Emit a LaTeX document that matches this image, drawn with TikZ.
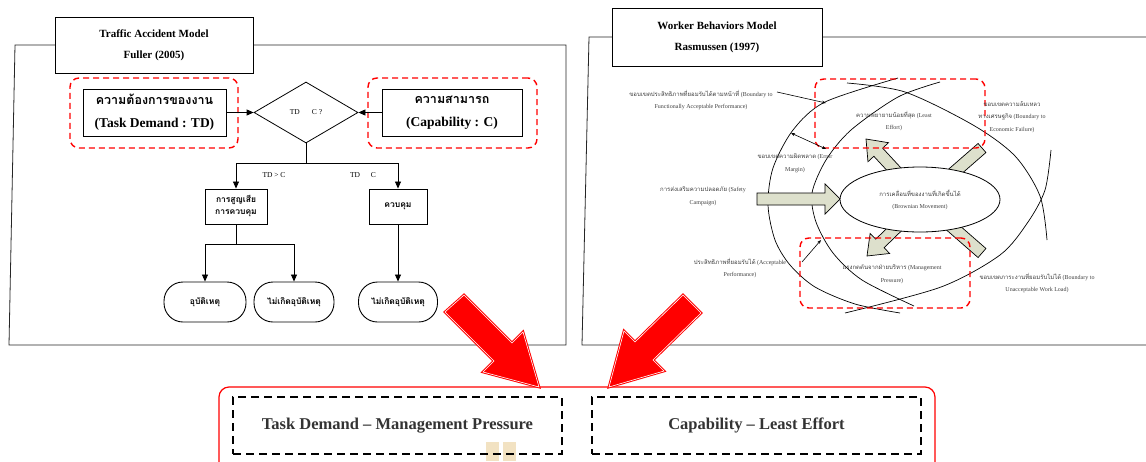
\documentclass[tikz,border=0pt]{standalone}
\usepackage{fontspec}
\setmainfont{Liberation Serif}
\newfontfamily\thaifont[Script=Thai]{Loma}
\usetikzlibrary{arrows.meta,shapes.geometric,calc}

\definecolor{drift}{RGB}{221,224,204}
\definecolor{stain}{RGB}{242,226,194}

% block arrow: from #1 to #2, shaft half width #3, head half width #4, head length #5
\newcommand\blockarr[5]{%
  \coordinate (ba-h) at ($(#2)!#5!(#1)$);
  \filldraw[blockfill] ($(#1)!#3!90:(#2)$) -- ($(ba-h)!#3!-90:(#1)$) -- ($(ba-h)!#4!-90:(#1)$)
    -- (#2) -- ($(ba-h)!#4!90:(#1)$) -- ($(ba-h)!#3!90:(#1)$) -- ($(#1)!#3!-90:(#2)$) -- cycle;}
% plain bar from #1 to #2, half width #3
\newcommand\blockbar[3]{%
  \filldraw[blockfill] ($(#1)!#3!90:(#2)$) -- ($(#2)!#3!-90:(#1)$) -- ($(#2)!#3!90:(#1)$)
    -- ($(#1)!#3!-90:(#2)$) -- cycle;}

\begin{document}
\begin{tikzpicture}[x=1pt,y=-1pt,
  frame/.style={draw=black!85, line width=0.8pt},
  titlebox/.style={draw, fill=white, line width=0.9pt, align=center, inner sep=0pt,
    font=\bfseries\fontsize{11}{21}\selectfont},
  redzone/.style={draw=red, line width=1.4pt, dash pattern=on 6pt off 4pt, rounded corners=9pt},
  box/.style={draw, fill=white, line width=0.9pt, align=center, inner sep=0pt},
  stadium/.style={box, rounded corners=19pt, minimum height=40pt,
    font=\thaifont\bfseries\fontsize{8.5}{10}\selectfont},
  flow/.style={-{Triangle[length=7pt,width=6pt]}, line width=0.8pt},
  link/.style={line width=0.8pt},
  small/.style={font=\fontsize{7.5}{9}\selectfont, inner sep=0pt},
  tiny/.style={font=\fontsize{6}{12.5}\selectfont, text=black!75, align=center, inner sep=0pt},
  curve/.style={line width=0.7pt},
  thin/.style={line width=0.6pt, -{Stealth[length=4pt,width=3pt]}},
  blockfill/.style={draw, line width=0.7pt, fill=drift},
  bigred/.style={fill=red, draw=red, line width=2.6pt, line join=miter},
  bigredline/.style={draw=white, line width=0.6pt, line join=miter},
  resultbox/.style={draw, line width=1.2pt, dash pattern=on 8pt off 5pt, inner sep=0pt,
    font=\bfseries\fontsize{16.5}{19}\selectfont, text=black!80}
]
\useasboundingbox (0,0) rectangle (1146,461);
\fill[white] (0,0) rectangle (1146,461);

% ---------------- Fuller: task-capability interface ----------------
\draw[frame] (15,45) -- (566,45) -- (566,345) -- (9,345) -- cycle;
\node[titlebox, minimum width=198pt, minimum height=56pt] (ftitle) at (154,45)
  {Traffic Accident Model\\Fuller (2005)};

\node[redzone, minimum width=168pt, minimum height=70pt] (tdzone) at (154,113) {};
\node[redzone, minimum width=169pt, minimum height=70pt] (capzone) at (452.5,113) {};

\node[box, minimum width=143pt, minimum height=47pt] (tdbox) at (154.5,112.5)
  {{\thaifont\bfseries\fontsize{12.5}{14}\selectfont ความต้องการของงาน}\\[11pt]
   {\bfseries\fontsize{13.5}{14}\selectfont (Task Demand : TD)}};
\node[box, minimum width=140pt, minimum height=47pt] (capbox) at (452,112.5)
  {{\thaifont\bfseries\fontsize{12.5}{14}\selectfont ความสามารถ}\\[11pt]
   {\bfseries\fontsize{13.5}{14}\selectfont (Capability : C)}};

\node[diamond, draw, line width=0.8pt, fill=white, minimum width=104pt, minimum height=61pt,
  inner sep=0pt, small] (cmp) at (306,112.5) {TD\hspace{12pt}C ?};

\draw[flow] (tdbox.east) -- (cmp.west);
\draw[flow] (capbox.west) -- (cmp.east);

\node[box, minimum width=62pt, minimum height=35pt,
  font=\thaifont\bfseries\fontsize{8.5}{12}\selectfont] (loss) at (236,206.5)
  {การสูญเสีย\\การควบคุม};
\node[box, minimum width=58pt, minimum height=35pt,
  font=\thaifont\bfseries\fontsize{8.5}{12}\selectfont] (ctrl) at (398,206.5) {ควบคุม};

\coordinate (split) at (306,163);
\draw[link] (cmp.south) -- (split);
\draw[flow] (split) -| (loss.north);
\draw[flow] (split) -| (ctrl.north);
\node[small] (gt) at (274,175) {TD > C};
\node[small] (le) at (363,175) {TD\hspace{11pt}C};

\node[stadium, minimum width=82pt] (acc) at (205,302) {อุบัติเหตุ};
\node[stadium, minimum width=80pt] (noacc) at (294,302) {ไม่เกิดอุบัติเหตุ};
\node[stadium, minimum width=79pt] (noaccb) at (398,302) {ไม่เกิดอุบัติเหตุ};

\coordinate (split2) at (236,244);
\draw[link] (loss.south) -- (split2);
\draw[flow] (split2) -| (acc.north);
\draw[flow] (split2) -| (noacc.north);
\draw[flow] (ctrl.south) -- (noaccb.north);

% ---------------- Rasmussen: worker behaviour ----------------
\draw[frame] (1150,37) -- (589,37) -- (582,345) -- (1150,345);
\node[titlebox, minimum width=210pt, minimum height=58pt] (rtitle) at (717,37)
  {Worker Behaviors Model\\Rasmussen (1997)};

% boundary curves
\draw[curve] plot[smooth] coordinates {(898,78) (825,102) (793,130) (773,168) (768,205)
  (775,240) (790,265) (815,287) (855,304) (900,313)};
\draw[curve] plot[smooth] coordinates {(940,82) (898,97) (851,130) (826,160) (812,193)
  (816,222) (833,253) (862,280) (914,306)};
\draw[curve] plot[smooth] coordinates {(847,83) (905,92) (973,125) (1015,156) (1040,196)
  (1047,240)};
\draw[curve] plot[smooth] coordinates {(845,313) (941,287) (1000,255) (1028,222)
  (1045,190) (1051,150)};

% drift arrows around the work space
\coordinate (sa) at (757,199); \coordinate (sb) at (840,199);
\blockarr{sa}{sb}{6pt}{15pt}{15pt}
\coordinate (ula) at (904,180); \coordinate (ulb) at (866,139);
\blockarr{ula}{ulb}{6pt}{14pt}{18pt}
\coordinate (dla) at (904,220); \coordinate (dlb) at (867,256);
\blockarr{dla}{dlb}{6pt}{14pt}{18pt}
\coordinate (ura) at (943,182); \coordinate (urb) at (982,148);
\blockbar{ura}{urb}{6pt}
\coordinate (dra) at (943,219); \coordinate (drb) at (982,253);
\blockbar{dra}{drb}{6pt}

\node[ellipse, draw, line width=0.8pt, fill=white, minimum width=160pt, minimum height=65pt,
  inner sep=0pt] (space) at (920,199.5) {};
\node[tiny] (spacetxt) at (920,200)
  {{\thaifont การเคลื่อนที่ของงานที่เกิดขึ้นได้}\\(Brownian Movement)};

\node[redzone, minimum width=170pt, minimum height=69pt] (effzone) at (900,113.5) {};
\node[redzone, minimum width=170pt, minimum height=70pt] (prszone) at (885,273) {};

% labels
\node[tiny] (bfap) at (701,100)
  {{\thaifont ขอบเขตประสิทธิภาพที่ยอมรับได้ตามหน้าที่} (Boundary to\\
   Functionally Acceptable Performance)};
\node[tiny] (least) at (894,121) {{\thaifont ความพยายามน้อยที่สุด} (Least\\Effort)};
\node[tiny] (econ) at (1012,117)
  {{\thaifont ขอบเขตความล้มเหลว}\\{\thaifont ทางเศรษฐกิจ} (Boundary to\\Economic Failure)};
\node[tiny] (margin) at (795,163) {{\thaifont ขอบเขตความผิดพลาด} (Error\\Margin)};
\node[tiny] (safety) at (703,196) {{\thaifont การส่งเสริมความปลอดภัย} (Safety\\Campaign)};
\node[tiny] (accp) at (740,268) {{\thaifont ประสิทธิภาพที่ยอมรับได้} (Acceptable\\Performance)};
\node[tiny] (mgmt) at (892,274) {{\thaifont แรงกดดันจากฝ่ายบริหาร} (Management\\Pressure)};
\node[tiny] (work) at (1037,283)
  {{\thaifont ขอบเขตภาระงานที่ยอมรับไม่ได้} (Boundary to\\Unacceptable Work Load)};

\coordinate (p1) at (777,92); \coordinate (p2) at (826,103);
\draw[thin] (p1) -- (p2);
\coordinate (m1) at (791,133); \coordinate (m2) at (826,149);
\draw[thin, {Stealth[length=4pt,width=3pt]}-{Stealth[length=4pt,width=3pt]}] (m1) -- (m2);
\coordinate (a1) at (802,262); \coordinate (a2) at (821,240);
\draw[thin] (a1) -- (a2);

% ---------------- conclusion ----------------
\draw[draw=red, line width=1.2pt, rounded corners=10pt] (219,475) -- (219,387) -- (935,387) -- (935,475);
\fill[stain] (486,442) rectangle (499,461);
\fill[stain] (503,442) rectangle (516,461);
\node[resultbox, minimum width=329pt, minimum height=57pt] (tdmp) at (397.5,425.5)
  {Task Demand -- Management Pressure};
\node[resultbox, minimum width=329pt, minimum height=57pt] (caple) at (756.5,425.5)
  {Capability -- Least Effort};

% large red arrows into the conclusion
\foreach \s in {bigred, bigredline}{
  \path[\s] (464,295) -- (445,312) -- (494,361) -- (483,372) -- (539,387)
    -- (523,332) -- (512,343) -- cycle;
  \path[\s] (683,295) -- (701,313) -- (653,360) -- (664,371) -- (609,387)
    -- (624,331) -- (635,342) -- cycle;
}
\end{tikzpicture}
\end{document}
